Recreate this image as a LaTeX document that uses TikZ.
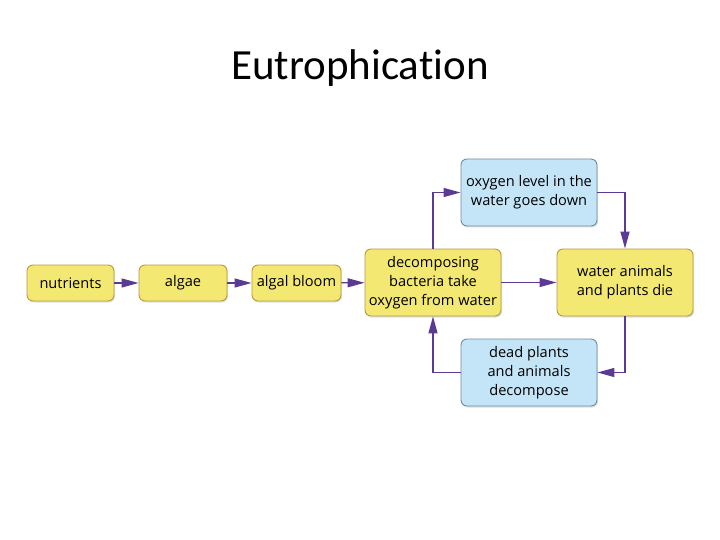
\documentclass[tikz,border=0pt]{standalone}
\usepackage{fontspec}
\setmainfont{Open Sans}
\newfontfamily\titlefont[Ligatures=NoCommon]{Carlito}
\usetikzlibrary{arrows.meta,shadows}
\definecolor{boxyellow}{HTML}{F3E872}
\definecolor{yellowborder}{HTML}{B89A3E}
\definecolor{boxblue}{HTML}{C3E5F7}
\definecolor{blueborder}{HTML}{6F8CA3}
\definecolor{arrowpurple}{HTML}{5A3A93}
\begin{document}
\begin{tikzpicture}[x=1pt,y=-1pt,
  ybox/.style={draw=yellowborder,fill=boxyellow,line width=0.9pt,rounded corners=6pt,
    drop shadow={opacity=0.25,shadow xshift=1pt,shadow yshift=-1.5pt},
    align=center,inner sep=2pt,font=\fontsize{14.6}{18.8}\selectfont},
  bbox/.style={ybox,draw=blueborder,fill=boxblue},
  small/.style={minimum width=87pt,minimum height=36pt},
  big/.style={minimum width=136pt,minimum height=67pt},
  flow/.style={draw=arrowpurple,line width=1.3pt,-{Triangle[length=17pt,width=9pt]}}
]
\useasboundingbox (0,0) rectangle (720,540);
\node[font=\titlefont\fontsize{43}{50}\selectfont] (title) at (360,68) {Eutrophication};
\node[ybox,small] (nut) at (70.5,283) {nutrients};
\node[ybox,small,minimum width=88pt] (alg) at (183,283) {algae};
\node[ybox,small,minimum width=89pt] (bloom) at (296.5,283) {algal bloom};
\node[ybox,big] (dec) at (433,282.5) {decomposing\\bacteria take\\oxygen from water};
\node[bbox,big] (oxy) at (529,192.5) {oxygen level in the\\water goes down};
\node[ybox,big] (wat) at (625,282.5) {water animals\\and plants die};
\node[bbox,big] (dead) at (529,372.5) {dead plants\\and animals\\decompose};
\draw[flow] (nut) -- (alg);
\draw[flow] (alg) -- (bloom);
\draw[flow] (bloom) -- (dec);
\draw[flow] (dec) -- (wat);
\draw[flow] (dec.north) |- (oxy.west);
\draw[flow] (oxy.east) -| (wat.north);
\draw[flow] (wat.south) |- (dead.east);
\draw[flow] (dead.west) -| (dec.south);
\end{tikzpicture}
\end{document}
